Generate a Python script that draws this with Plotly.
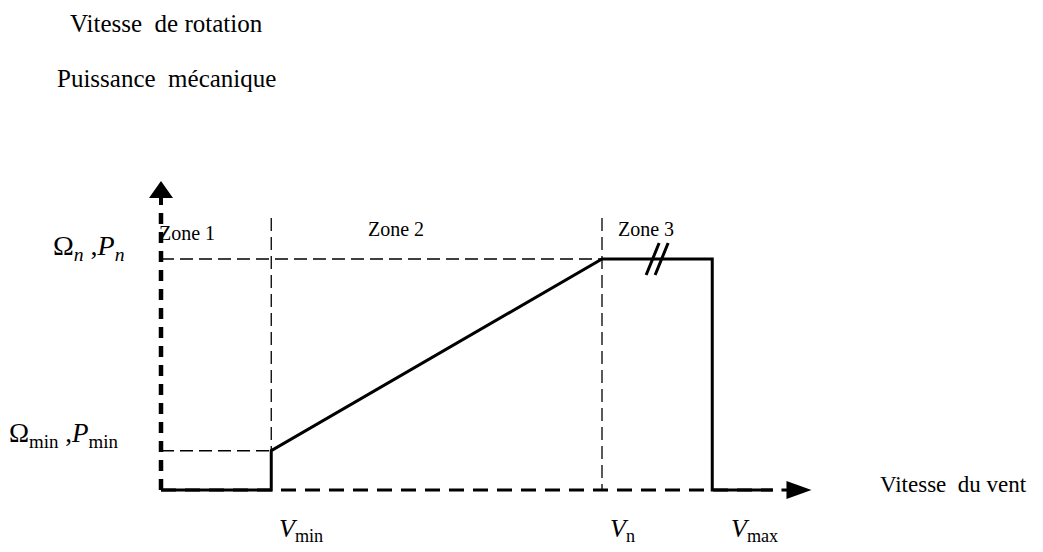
import plotly.graph_objects as go

# ---- data (wind speed in m/s, power / rotation speed normalised to nominal) ----
V_MIN = 3.0
V_N = 12.0
V_MAX = 15.0
P_MIN = 0.17
P_N = 1.0

curve_v = [0.0, V_MIN, V_MIN, V_N, V_MAX, V_MAX, 16.65]
curve_p = [0.0, 0.0, P_MIN, P_N, P_N, 0.0, 0.0]

zone_labels = ["Zone 1", "Zone 2", "Zone 3"]
zone_x = [0.7, 6.4, 13.2]
zone_y = [1.112, 1.128, 1.128]

AXIS_X_END = 17.7   # arrow tip of wind-speed axis
AXIS_Y_END = 1.338  # arrow tip of power axis
GUIDE_TOP = 1.177   # top of vertical dashed guides
BREAK_X = 13.5

# ---- layout geometry (page body has an 8px margin) ----
PAGE_OFF = 8
W, H = 1043 - PAGE_OFF, 552 - PAGE_OFF
X0_PX, PX_PER_V = 161 - PAGE_OFF, 36.75
Y0_PX, PX_PER_P = 490 - PAGE_OFF, 231
x_range = [-X0_PX / PX_PER_V, (W - X0_PX) / PX_PER_V]
y_range = [-(H - Y0_PX) / PX_PER_P, Y0_PX / PX_PER_P]


def px(x):
    return (x - PAGE_OFF) / W


def py(y):
    return 1 - (y - PAGE_OFF) / H


SERIF = "Liberation Serif, Times New Roman, serif"
fig = go.Figure()

thin = dict(color="black", width=1.3, dash="13px,6px")

# vertical guides
for v in [V_MIN, V_N]:
    fig.add_trace(go.Scatter(x=[v, v], y=[GUIDE_TOP, 0], mode="lines", line=thin, hoverinfo="skip"))
# horizontal guides
fig.add_trace(go.Scatter(x=[0, V_N], y=[P_N, P_N], mode="lines", line=thin, hoverinfo="skip"))
fig.add_trace(go.Scatter(x=[0, V_MIN], y=[P_MIN, P_MIN], mode="lines", line=thin, hoverinfo="skip"))

# dashed axes
fig.add_trace(go.Scatter(x=[0, curve_v[-1]], y=[0, 0], mode="lines",
                         line=dict(color="black", width=3.2, dash="15px,9px"), hoverinfo="skip"))
fig.add_trace(go.Scatter(x=[0, 0], y=[0, 1.234], mode="lines",
                         line=dict(color="black", width=4.5, dash="11px,8px"), hoverinfo="skip"))

# main curve
fig.add_trace(go.Scatter(x=curve_v, y=curve_p, mode="lines",
                         line=dict(color="black", width=3), hoverinfo="skip"))

shapes = [
    # y arrow head
    dict(type="path", xref="x", yref="y", xsizemode="pixel", ysizemode="pixel",
         xanchor=0, yanchor=AXIS_Y_END,
         path="M-2,-24 L-2,-17 L-12,-17 L0,0 L12,-17 L2,-17 L2,-24 Z",
         fillcolor="black", line=dict(width=0)),
    # x arrow head
    dict(type="path", xref="x", yref="y", xsizemode="pixel", ysizemode="pixel",
         xanchor=AXIS_X_END, yanchor=0,
         path="M-30,-1.6 L-25,-1.6 L-25,-9 L0,0 L-25,9 L-25,1.6 L-30,1.6 Z",
         fillcolor="black", line=dict(width=0)),
    # break marks
    dict(type="path", xref="x", yref="y", xsizemode="pixel", ysizemode="pixel",
         xanchor=BREAK_X, yanchor=P_N,
         path="M-11,-16 L2,16 M-2,-16 L11,16",
         line=dict(color="black", width=3)),
]

ann = []


def txt(x, y, text, size, xanchor="center", xref="x", yref="y"):
    ann.append(dict(x=x, y=y, xref=xref, yref=yref, text=text, showarrow=False,
                    xanchor=xanchor, yanchor="middle",
                    font=dict(family=SERIF, size=size, color="black")))


txt(px(68), py(23), "Vitesse \u00a0de rotation", 25, "left", "paper", "paper")
txt(px(55), py(79), "Puissance \u00a0mécanique", 25, "left", "paper", "paper")
txt(px(878), py(484), "Vitesse \u00a0du vent", 23, "left", "paper", "paper")

for lab, zx, zy in zip(zone_labels, zone_x, zone_y):
    txt(zx, zy, lab, 20)

txt(-0.925, P_N + 0.05, "Ω<sub><i>n</i></sub> ,<i>P</i><sub><i>n</i></sub>", 28, "right")
txt(-1.115, P_MIN + 0.07, "Ω<sub>min</sub> ,<i>P</i><sub>min</sub>", 27, "right")

txt(V_MIN + 0.15, -0.175, "<i>V</i><sub>min</sub>", 26, "left")
txt(V_N + 0.15, -0.175, "<i>V</i><sub>n</sub>", 26, "left")
txt(V_MAX + 0.45, -0.175, "<i>V</i><sub>max</sub>", 26, "left")

fig.update_layout(
    width=W, height=H, margin=dict(l=0, r=0, t=0, b=0),
    paper_bgcolor="white", plot_bgcolor="white", showlegend=False,
    xaxis=dict(range=x_range, visible=False, fixedrange=True),
    yaxis=dict(range=y_range, visible=False, fixedrange=True),
    shapes=shapes, annotations=ann,
)

fig.write_html("out.html")
